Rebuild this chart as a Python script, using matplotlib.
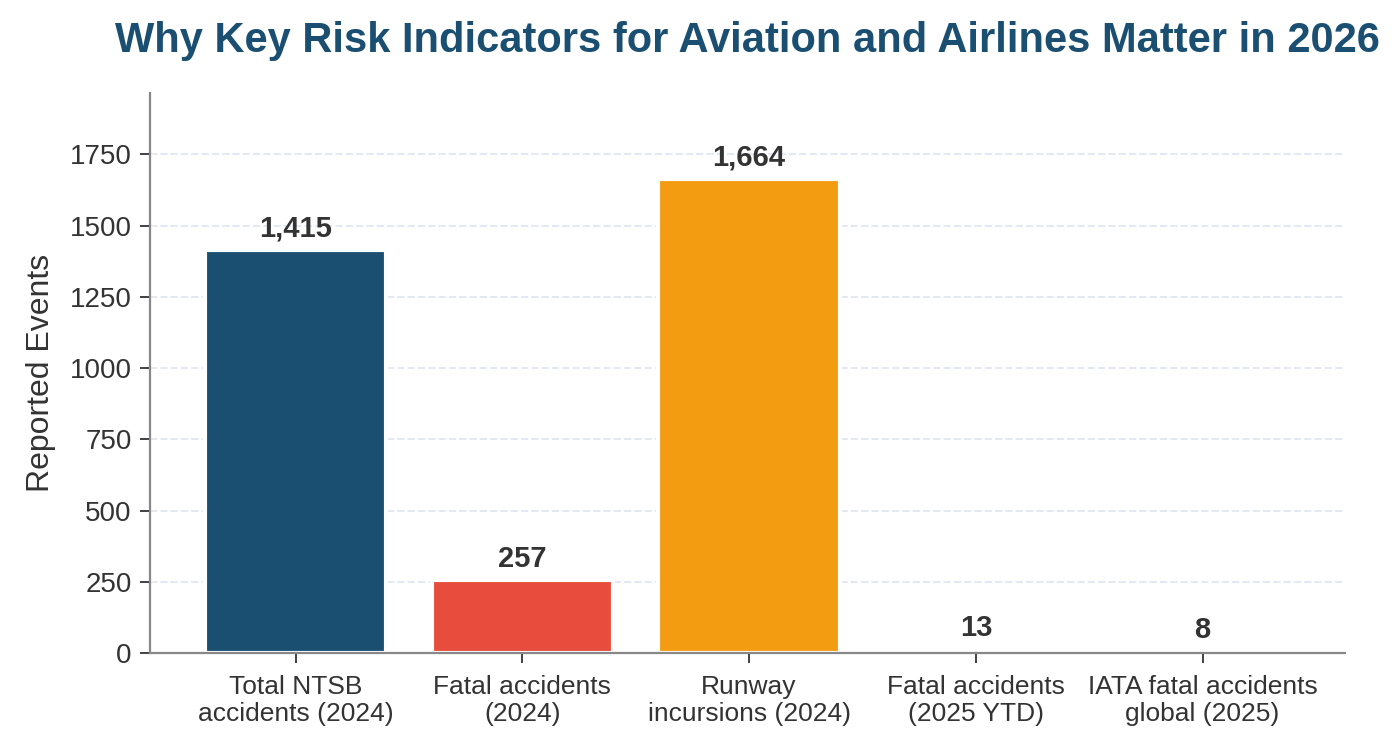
import matplotlib
matplotlib.use("Agg")
import matplotlib.pyplot as plt

# Datos del gráfico
categorias = ["Total NTSB\naccidents (2024)", "Fatal accidents\n(2024)",
              "Runway\nincursions (2024)", "Fatal accidents\n(2025 YTD)",
              "IATA fatal accidents\nglobal (2025)"]
valores = [1415, 257, 1664, 13, 8]
colores = ["#1B4F72", "#E74C3C", "#F39C12", "#27AE60", "#8E44AD"]

plt.rcParams['font.family'] = ['Liberation Sans', 'DejaVu Sans']

fig, ax = plt.subplots(figsize=(14, 7.48), dpi=100)
fig.subplots_adjust(left=0.107, right=0.961, top=0.876, bottom=0.127)

x = range(len(categorias))
barras = ax.bar(x, valores, width=0.8, color=colores, edgecolor="white", linewidth=3, zorder=2)

# Etiquetas encima de cada barra
for b, v in zip(barras, valores):
    ax.annotate(f"{v:,}", (b.get_x() + b.get_width() / 2, v), xytext=(0, 5),
                textcoords="offset points", ha="center", va="bottom",
                fontsize=21, fontweight="bold", color="#333333")

ax.set_xticks(list(x))
ax.set_xticklabels(categorias, fontsize=19, color="#333333", linespacing=1.15)
ax.set_xlim(-0.643, 4.63)
ax.set_ylim(0, 1966)
ax.set_yticks([0, 250, 500, 750, 1000, 1250, 1500, 1750])
ax.tick_params(axis="y", labelsize=20, colors="#333333", length=7, width=1.3, pad=6)
ax.tick_params(axis="x", length=7, width=1.3, colors="#333333", pad=9)
ax.set_ylabel("Reported Events", fontsize=23, color="#333333", labelpad=10)

ax.yaxis.grid(True, linestyle="--", color="#E3E8F2", linewidth=1.4, zorder=0)
ax.set_axisbelow(True)
for s in ["top", "right"]:
    ax.spines[s].set_visible(False)
for s in ["left", "bottom"]:
    ax.spines[s].set_color("#888888")
    ax.spines[s].set_linewidth(1.6)
    ax.spines[s].set_zorder(3)

ax.set_title("Why Key Risk Indicators for Aviation and Airlines Matter in 2026",
             fontsize=30, fontweight="bold", color="#1B4F72", pad=29)

plt.savefig("out.png", dpi=100)
